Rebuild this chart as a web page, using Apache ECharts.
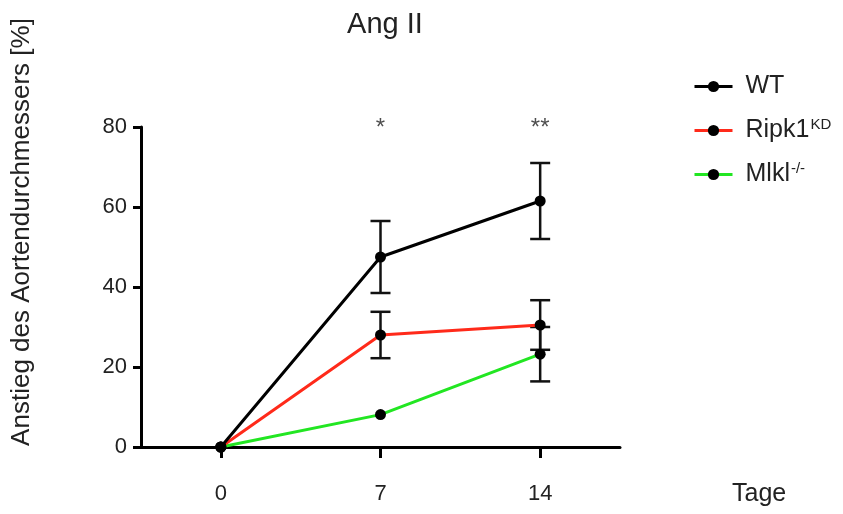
<!DOCTYPE html>
<html><head><meta charset="utf-8">
<script src="https://cdn.jsdelivr.net/npm/echarts@6/dist/echarts.min.js"></script>
<style>html,body{margin:0;padding:0;background:#fff}#c{width:843px;height:514px}</style>
</head><body><div id="c"></div>
<script>
const days = [0, 7, 14];
const wtMean = [0, 47.5, 61.5];
const wtErr = [0, 9, 9.5];
const ripkMean = [0, 28, 30.5];
const ripkErr = [0, 5.8, 6.2];
const mlklMean = [0, 8.1, 23.2];
const mlklErr = [0, 0, 6.8];
const sigX = [7, 14];
const sigLabels = ['*', '**'];
const xTicks = [0, 7, 14];

const font = 'Liberation Sans, Arial, sans-serif';
const txt = '#222';

function pairs(m){ return days.map((d,i)=>[d, m[i]]); }
function errData(m,e){ return days.map((d,i)=>[d, m[i]-e[i], m[i]+e[i]]).filter((r,i)=>e[i]>0); }

function errSeries(m,e){
  return {
    type:'custom', z:5,
    data: errData(m,e),
    renderItem: function(params, api){
      const x = api.value(0);
      const lo = api.coord([x, api.value(1)]);
      const hi = api.coord([x, api.value(2)]);
      const w = 10;
      const st = {stroke:'#111', lineWidth:2.5};
      return {type:'group', children:[
        {type:'line', shape:{x1:lo[0],y1:lo[1],x2:hi[0],y2:hi[1]}, style:st},
        {type:'line', shape:{x1:lo[0]-w,y1:lo[1],x2:lo[0]+w,y2:lo[1]}, style:st},
        {type:'line', shape:{x1:hi[0]-w,y1:hi[1],x2:hi[0]+w,y2:hi[1]}, style:st}
      ]};
    }
  };
}

function lineSeries(name, m, color){
  return {
    name, type:'line', data: pairs(m), symbol:'circle', symbolSize:11, z:10,
    lineStyle:{color, width:3}, itemStyle:{color:'#000'}, emphasis:{disabled:true}
  };
}

const legendNames = {
  'WT':'{n|WT}',
  'Ripk1KD':'{n|Ripk1}{s|KD}',
  'Mlkl-/-':'{n|Mlkl}{s|-/-}'
};

const chart = echarts.init(document.getElementById('c'), null, {renderer:'canvas'});
chart.setOption({
  animation:false,
  backgroundColor:'#fff',
  title:{text:'Ang II', left:380, top:5, textAlign:'center',
    textStyle:{fontFamily:font, fontSize:29, fontWeight:'normal', color:txt}},
  grid:{left:141, right:223, top:127, bottom:67, containLabel:false},
  legend:{
    orient:'vertical', left:693, top:74, padding:0, itemWidth:38, itemHeight:14, itemGap:18,
    lineStyle:{width:3}, itemStyle:{borderWidth:0},
    data:['WT','Ripk1KD','Mlkl-/-'],
    formatter: n => legendNames[n],
    textStyle:{fontFamily:font, fontSize:25, color:txt, padding:[0,0,0,8],
      rich:{n:{fontFamily:font, fontSize:25, color:txt},
            s:{fontFamily:font, fontSize:15, color:txt, verticalAlign:'bottom', padding:[0,0,12,1]}}}
  },
  xAxis:{
    type:'value', min:-3.5, max:17.5,
    name:'Tage', nameLocation:'end', nameGap:112,
    nameTextStyle:{fontFamily:font, fontSize:25, color:txt, align:'left', verticalAlign:'top', padding:[35,0,0,0]},
    axisLine:{onZero:false, lineStyle:{color:'#000', width:3}},
    axisTick:{show:true, customValues:xTicks, length:11, lineStyle:{color:'#000', width:3}},
    axisLabel:{customValues:xTicks, margin:36, fontFamily:font, fontSize:22, color:txt},
    splitLine:{show:false}
  },
  yAxis:{
    type:'value', min:0, max:80, interval:20,
    name:'Anstieg des Aortendurchmessers [%]', nameLocation:'middle', nameGap:106,
    nameTextStyle:{fontFamily:font, fontSize:26, color:txt, padding:[0,0,0,110]},
    axisLine:{show:true, onZero:false, lineStyle:{color:'#000', width:3}},
    axisTick:{show:true, length:8, lineStyle:{color:'#000', width:3}},
    axisLabel:{margin:14, fontFamily:font, fontSize:22, color:txt},
    splitLine:{show:false}
  },
  series:[
    errSeries(wtMean, wtErr),
    errSeries(ripkMean, ripkErr),
    errSeries(mlklMean, mlklErr),
    lineSeries('Mlkl-/-', mlklMean, '#22e622'),
    lineSeries('Ripk1KD', ripkMean, '#ff2a1a'),
    lineSeries('WT', wtMean, '#000'),
    {type:'scatter', symbolSize:0, silent:true,
     data: sigX.map((x,i)=>({value:[x,80], label:{formatter:sigLabels[i]}})),
     label:{show:true, position:'inside', offset:[0,1], fontFamily:font, fontSize:24, color:txt}}
  ]
});
</script></body></html>
